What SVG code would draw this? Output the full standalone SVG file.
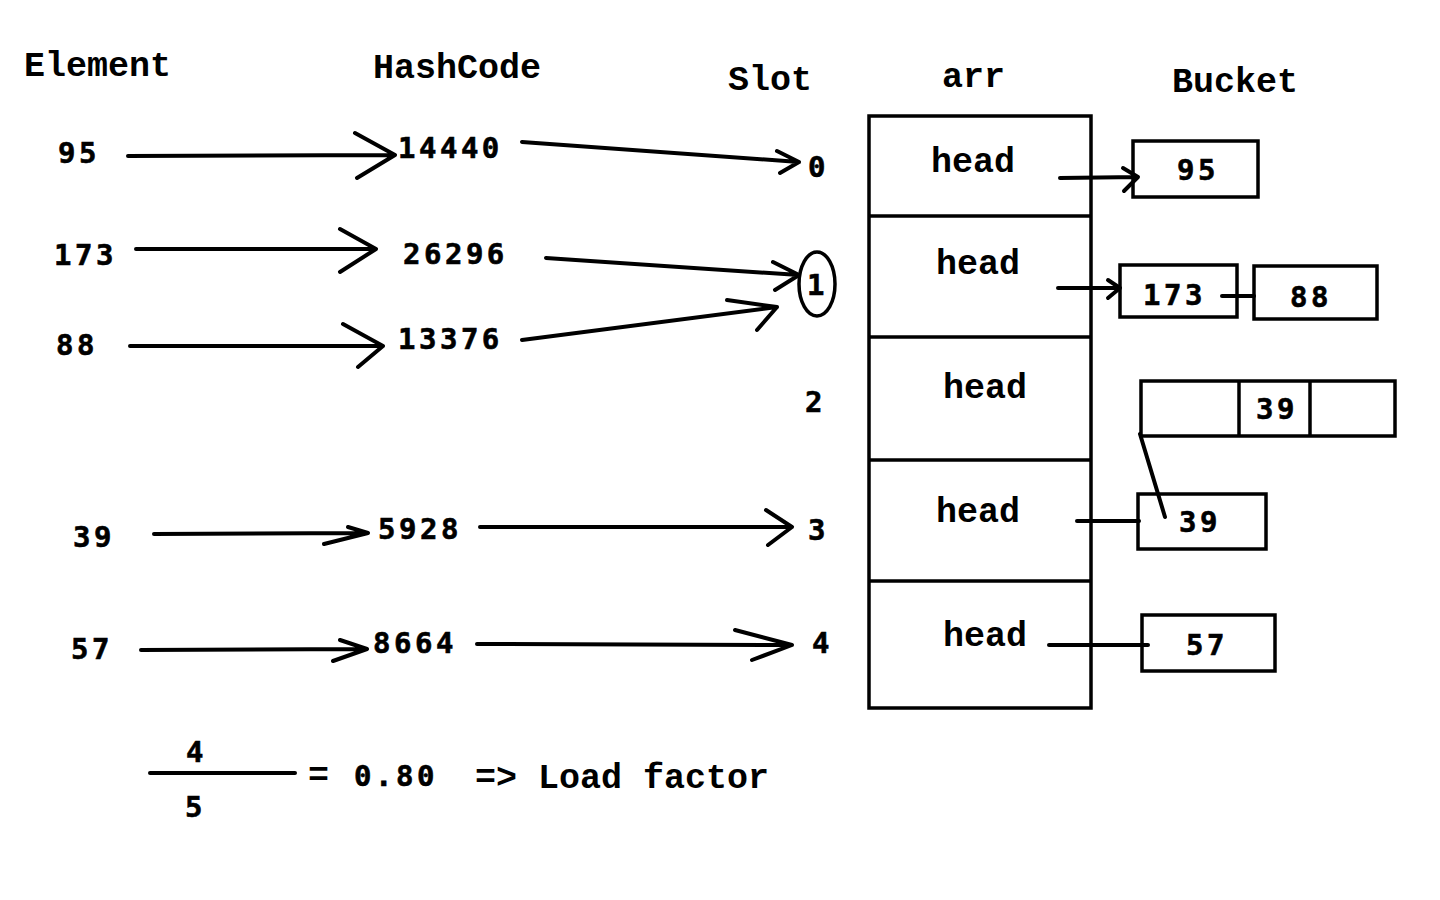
<svg xmlns="http://www.w3.org/2000/svg" width="1440" height="900" viewBox="0 0 1440 900">
<style>
.h{font-family:"Liberation Mono","Courier New",monospace;font-weight:bold;font-size:35px;fill:#000}
.n{font-family:"DejaVu Sans Mono",monospace;font-weight:bold;font-size:29px;letter-spacing:3.5px;fill:#000;stroke:#000;stroke-width:0.6}
.ln{stroke:#000;stroke-width:4;fill:none;stroke-linecap:round;stroke-linejoin:round}
.bx{stroke:#000;stroke-width:3.5;fill:none}
</style>
<rect width="1440" height="900" fill="#fff"/>
<g id="headers">
<text class="h" x="24" y="76">Element</text>
<text class="h" x="373" y="78">HashCode</text>
<text class="h" x="728" y="90">Slot</text>
<text class="h" x="942" y="87">arr</text>
<text class="h" x="1172" y="92">Bucket</text>
</g>
<g id="elements">
<text class="n" x="58" y="163">95</text>
<text class="n" x="54" y="265">173</text>
<text class="n" x="56" y="355">88</text>
<text class="n" x="73" y="547">39</text>
<text class="n" x="71" y="659">57</text>
</g>
<g id="hashcodes">
<text class="n" x="398" y="158">14440</text>
<text class="n" x="403" y="264">26296</text>
<text class="n" x="398" y="349">13376</text>
<text class="n" x="378" y="539">5928</text>
<text class="n" x="373" y="653">8664</text>
</g>
<g id="slots">
<text class="n" x="808" y="177">0</text>
<ellipse cx="817" cy="284" rx="18" ry="32" class="bx"/>
<text class="n" x="807" y="295">1</text>
<text class="n" x="805" y="412">2</text>
<text class="n" x="808" y="540">3</text>
<text class="n" x="812" y="653">4</text>
</g>
<g id="arr">
<rect x="869" y="116" width="222" height="592" class="bx"/>
<line x1="869" y1="216" x2="1091" y2="216" class="bx"/>
<line x1="869" y1="337" x2="1091" y2="337" class="bx"/>
<line x1="869" y1="460" x2="1091" y2="460" class="bx"/>
<line x1="869" y1="581" x2="1091" y2="581" class="bx"/>
<text class="h" x="931" y="172">head</text>
<text class="h" x="936" y="274">head</text>
<text class="h" x="943" y="398">head</text>
<text class="h" x="936" y="522">head</text>
<text class="h" x="943" y="646">head</text>
</g>
<g id="bucket95">
<rect x="1133" y="141" width="125" height="56" class="bx"/>
<text class="n" x="1177" y="180">95</text>
</g>
<g id="bucket173">
<rect x="1120" y="265" width="117" height="52" class="bx"/>
<text class="n" x="1143" y="305">173</text>
</g>
<g id="bucket88">
<rect x="1254" y="266" width="123" height="53" class="bx"/>
<text class="n" x="1290" y="307">88</text>
</g>
<g id="bucket39top">
<rect x="1141" y="381" width="254" height="55" class="bx"/>
<line x1="1239" y1="381" x2="1239" y2="436" class="bx"/>
<line x1="1310" y1="381" x2="1310" y2="436" class="bx"/>
<text class="n" x="1256" y="419">39</text>
</g>
<g id="bucket39">
<rect x="1138" y="494" width="128" height="55" class="bx"/>
<text class="n" x="1179" y="532">39</text>
</g>
<g id="bucket57">
<rect x="1142" y="615" width="133" height="56" class="bx"/>
<text class="n" x="1186" y="655">57</text>
</g>
<g id="connectors">
<path class="ln" d="M128,156 L395,155 M355,133 L395,155 L357,178"/>
<path class="ln" d="M522,142 L799,162 M777,151 L799,162 L780,173"/>
<path class="ln" d="M136,249 L376,249 M340,229 L376,249 L340,272"/>
<path class="ln" d="M546,258 L799,275 M773,262 L799,275 L775,290"/>
<path class="ln" d="M130,346 L383,346 M343,324 L383,346 L358,367"/>
<path class="ln" d="M522,340 L777,307 M727,300 L777,307 L757,330"/>
<path class="ln" d="M154,534 L368,533 M348,527 L368,533 L324,544"/>
<path class="ln" d="M480,527 L792,527 M766,510 L792,527 L768,545"/>
<path class="ln" d="M141,650 L367,649 M340,640 L367,649 L333,661"/>
<path class="ln" d="M477,644 L792,645 M735,630 L792,645 L752,660"/>
<path class="ln" d="M1060,178 L1138,177 M1123,168 L1138,177 L1124,191"/>
<path class="ln" d="M1058,288 L1120,288 M1108,280 L1120,288 L1108,298"/>
<path class="ln" d="M1222,296 L1254,296"/>
<path class="ln" d="M1077,521 L1139,521"/>
<path class="ln" d="M1140,434 L1165,517"/>
<path class="ln" d="M1049,645 L1148,645"/>
</g>
<g id="loadfactor">
<text class="n" x="186" y="762">4</text>
<line x1="150" y1="773" x2="295" y2="773" class="ln"/>
<text class="n" x="185" y="817">5</text>
<text class="h" x="308" y="786">=</text>
<text class="n" x="354" y="786">0.80</text>
<text class="h" x="475" y="788">=&gt; Load factor</text>
</g>
</svg>
